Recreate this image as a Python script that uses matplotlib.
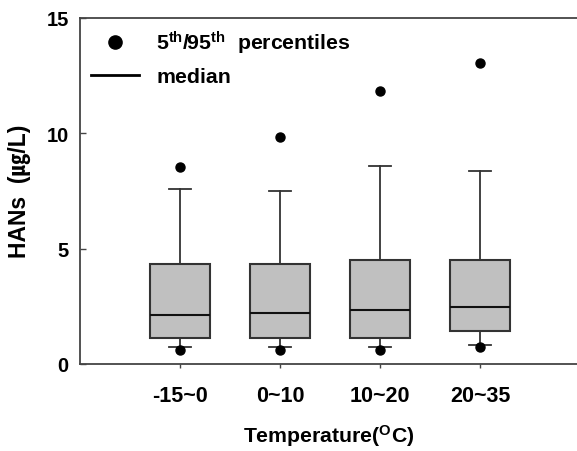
import numpy as np
import matplotlib
matplotlib.use("Agg")
import matplotlib.pyplot as plt
from matplotlib.lines import Line2D

plt.rcParams.update({
    "font.family": ["Liberation Sans", "DejaVu Sans"],
    "font.weight": "bold",
    "mathtext.fontset": "custom",
    "mathtext.rm": "Liberation Sans:bold",
    "mathtext.it": "Liberation Sans:italic",
    "mathtext.bf": "Liberation Sans:bold",
})

categories = ["-15~0", "0~10", "10~20", "20~35"]
q1 = [1.11, 1.11, 1.11, 1.42]
median = [2.11, 2.21, 2.33, 2.45]
q3 = [4.32, 4.35, 4.50, 4.50]
whisker_lo = [0.72, 0.72, 0.72, 0.82]
whisker_hi = [7.58, 7.48, 8.59, 8.37]
pct5 = [0.60, 0.60, 0.60, 0.72]
pct95 = [8.52, 9.81, 11.84, 13.05]

EDGE = "#333333"
BOXFILL = "#c0c0c0"

fig = plt.figure(figsize=(5.77, 4.52), dpi=100)
ax = fig.add_axes([0.1386, 0.1925, 1.0 - 0.1386, 0.959 - 0.1925])

pos = np.arange(1, len(categories) + 1)
stats = []
for i in range(len(categories)):
    stats.append({"med": median[i], "q1": q1[i], "q3": q3[i],
                  "whislo": whisker_lo[i], "whishi": whisker_hi[i],
                  "fliers": []})

ax.bxp(stats, positions=pos, widths=0.6, capwidths=0.22, patch_artist=True,
       boxprops=dict(facecolor=BOXFILL, edgecolor=EDGE, linewidth=1.5),
       medianprops=dict(color="#111111", linewidth=1.5),
       whiskerprops=dict(color=EDGE, linewidth=1.3),
       capprops=dict(color=EDGE, linewidth=1.3),
       showfliers=False)

ax.plot(pos, pct5, "o", color="black", markersize=6.5, zorder=5)
ax.plot(pos, pct95, "o", color="black", markersize=6.5, zorder=5)

ax.set_xlim(0, 4.97)
ax.set_ylim(0, 15)
ax.set_yticks([0, 5, 10, 15])
ax.set_xticks(pos)
ax.set_xticklabels(categories)

for s in ["left", "bottom", "top"]:
    ax.spines[s].set_color("#444444")
    ax.spines[s].set_linewidth(1.3)
ax.spines["right"].set_visible(False)

ax.tick_params(axis="y", direction="in", length=4.5, width=1, colors="#444444",
               labelcolor="black", labelsize=14.5, pad=8)
ax.tick_params(axis="x", direction="out", length=3, width=1, colors="#444444",
               labelcolor="black", labelsize=15.5, pad=12)

ax.set_xlabel("Temperature($^{\\rm O}$C)", fontsize=15.3, fontweight="bold",
              labelpad=12)
ax.set_ylabel("HANs  (㎍/L)", fontsize=16.5, fontweight="bold", labelpad=11,
              family=["Liberation Sans", "Noto Sans CJK KR", "DejaVu Sans"])

handles = [Line2D([], [], marker="o", color="black", linestyle="none", markersize=9.5),
           Line2D([], [], color="black", linewidth=2)]
labels = ["5$^{\\rm th}$/95$^{\\rm th}$  percentiles", "median"]
ax.legend(handles, labels, loc="upper left", bbox_to_anchor=(0.006, 0.991),
          frameon=False, handlelength=2.25, handletextpad=0.8,
          labelspacing=0.5, borderaxespad=0.1, borderpad=0.3,
          prop={"weight": "bold", "size": 15.3})

fig.savefig("out.png", dpi=100)
